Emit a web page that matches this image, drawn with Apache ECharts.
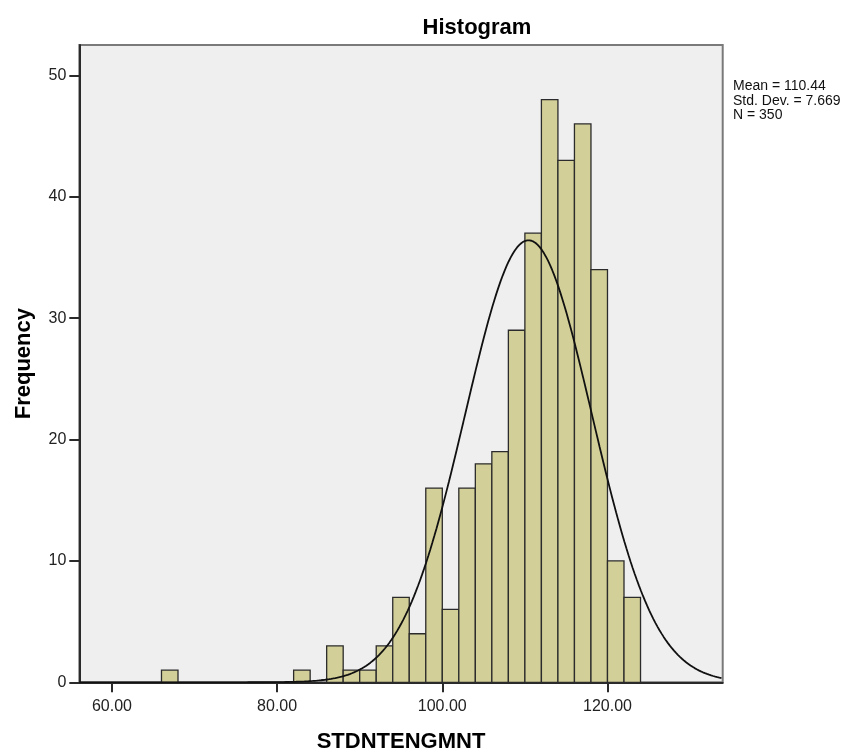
<!DOCTYPE html>
<html>
<head>
<meta charset="utf-8">
<script src="https://cdn.jsdelivr.net/npm/echarts@6/dist/echarts.min.js"></script>
<style>
html,body{margin:0;padding:0;background:#fff;}
#chart{width:863px;height:753px;}
</style>
</head>
<body>
<div id="chart"></div>
<script>
// Histogram bins (lower edge, upper edge) and frequencies
const binStarts = [66, 82, 86, 88, 90, 92, 94, 96, 98, 100, 102, 104, 106, 108, 110, 112, 114, 116, 118, 120, 122];
const binWidth = 2;
const frequencies = [1, 1, 3, 1, 1, 3, 7, 4, 16, 6, 16, 18, 19, 29, 37, 48, 43, 46, 34, 10, 7];
const xTickValues = [60, 80, 100, 120];
const yTickValues = [0, 10, 20, 30, 40, 50];
const MEAN = 110.44;
const SD = 7.669;
const N = 350;
const statLines = ['Mean = 110.44', 'Std. Dev. = 7.669', 'N = 350'];

const X_MIN = 56.05, X_MAX = 133.95, Y_MAX = 52.5;

const barData = binStarts.map((s, i) => [s, s + binWidth, frequencies[i]]);

// Normal curve fitted from the displayed mean / std. dev. / N
const curve = [];
for (let x = X_MIN; x <= X_MAX + 1e-9; x += 0.25) {
  const z = (x - MEAN) / SD;
  curve.push([x, N * binWidth * Math.exp(-0.5 * z * z) / (SD * Math.sqrt(2 * Math.PI))]);
}

const FONT = 'Liberation Sans, Arial, sans-serif';
const chart = echarts.init(document.getElementById('chart'));
chart.setOption({
  animation: false,
  backgroundColor: '#ffffff',
  title: {
    text: 'Histogram', left: 472, top: 12, textAlign: 'center',
    textStyle: {fontFamily: FONT, fontSize: 22, fontWeight: 'bold', color: '#000'}
  },
  grid: {
    left: 79.3, right: 140.3, top: 45, bottom: 70.7,
    containLabel: false, outerBoundsMode: 'none',
    show: true, backgroundColor: '#efefef', borderColor: '#7a7a7a', borderWidth: 2
  },
  xAxis: {
    type: 'value', min: X_MIN, max: X_MAX,
    name: 'STDNTENGMNT', nameLocation: 'middle', nameGap: 49,
    nameTextStyle: {fontFamily: FONT, fontSize: 22, fontWeight: 'bold', color: '#000'},
    axisLine: {show: true, onZero: false, lineStyle: {color: '#2a2a2a', width: 2}},
    axisTick: {show: true, length: 10, customValues: xTickValues, lineStyle: {color: '#2a2a2a', width: 2}},
    axisLabel: {customValues: xTickValues, formatter: v => v.toFixed(2), margin: 16,
      fontFamily: FONT, fontSize: 16, color: '#222'},
    splitLine: {show: false}
  },
  yAxis: {
    type: 'value', min: 0, max: Y_MAX,
    name: 'Frequency', nameLocation: 'middle', nameGap: 44, nameRotate: 90,
    nameTextStyle: {fontFamily: FONT, fontSize: 22, fontWeight: 'bold', color: '#000'},
    axisLine: {show: true, lineStyle: {color: '#2a2a2a', width: 2}},
    axisTick: {show: true, length: 10, customValues: yTickValues, lineStyle: {color: '#2a2a2a', width: 2}},
    axisLabel: {customValues: yTickValues, margin: 13,
      fontFamily: FONT, fontSize: 16, color: '#222'},
    splitLine: {show: false}
  },
  graphic: [{
    type: 'text', left: 733, top: 79,
    style: {text: statLines.join('\n'), fontFamily: FONT, fontSize: 14, lineHeight: 14.5, fill: '#111'}
  }],
  series: [{
    type: 'custom',
    data: barData,
    encode: {x: [0, 1], y: 2},
    renderItem: function (params, api) {
      const p0 = api.coord([api.value(0), 0]);
      const p1 = api.coord([api.value(1), api.value(2)]);
      return {
        type: 'rect',
        shape: {x: p0[0], y: p1[1], width: p1[0] - p0[0], height: p0[1] - p1[1]},
        style: {fill: '#d3cf98', stroke: '#2b2b2b', lineWidth: 1.3}
      };
    },
    z: 2
  }, {
    type: 'line', data: curve, showSymbol: false, smooth: false,
    lineStyle: {color: '#111', width: 1.8}, z: 3, clip: true
  }]
});
</script>
</body>
</html>
